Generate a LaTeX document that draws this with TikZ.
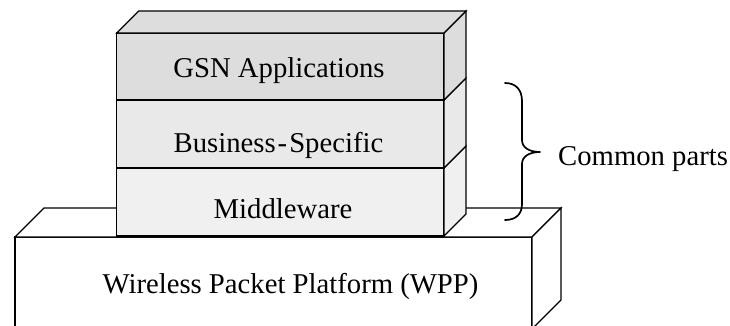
\documentclass[tikz,border=0pt]{standalone}
\usepackage{fontspec}
\setmainfont{Liberation Serif}
\definecolor{gsnfill}{HTML}{DDDDDD}
\definecolor{bizfill}{HTML}{E9E9E9}
\definecolor{midfill}{HTML}{F0F0F0}
\tikzset{
  face/.style={draw=black, line width=1.3pt, line join=miter},
  lbl/.style={inner sep=0pt, anchor=base, font=\fontsize{28.7}{34}\selectfont},
  bracepath/.style={draw=black, line width=1.7pt, line cap=round, line join=round}
}
\begin{document}
\begin{tikzpicture}[x=1pt, y=-1pt]
\useasboundingbox (0,0) rectangle (730,325);
\clip (0,0) rectangle (730,325);

% platform block (front, top, right side)
\filldraw[face, fill=white] (15,237) -- (532,237) -- (532,329) -- (15,329) -- cycle;
\filldraw[face, fill=white] (15,237) -- (44,208) -- (561,208) -- (532,237) -- cycle;
\filldraw[face, fill=white] (532,237) -- (561,208) -- (561,300) -- (532,329) -- cycle;

% stacked layers: front faces and right sides
\filldraw[face, fill=midfill] (116.7,168) rectangle (444,236);
\filldraw[face, fill=midfill] (444,168) -- (466,146) -- (466,214) -- (444,236) -- cycle;
\filldraw[face, fill=bizfill] (116.7,100) rectangle (444,168);
\filldraw[face, fill=bizfill] (444,100) -- (466,78) -- (466,146) -- (444,168) -- cycle;
\filldraw[face, fill=gsnfill] (116.7,33) rectangle (444,100);
\filldraw[face, fill=gsnfill] (444,33) -- (466,11) -- (466,78) -- (444,100) -- cycle;
% top face of the stack
\filldraw[face, fill=gsnfill] (116.7,33) -- (138.7,11) -- (466,11) -- (444,33) -- cycle;

% layer labels
\node[lbl] (gsn) at (279,77) {GSN Applications};
\node[lbl] (biz) at (278.5,152) {Business\kern2pt-\kern2pt Specific};
\node[lbl] (mid) at (283,218) {Middleware};
\node[lbl] (wpp) at (290.5,293) {Wireless Packet Platform (WPP)};
\node[lbl, anchor=base west] (common) at (558,165) {Common parts};

% curly brace grouping the common layers
\coordinate (btop) at (505,83);
\coordinate (btip) at (540,152);
\coordinate (bbot) at (505,220);
\draw[bracepath] (btop) .. controls (516,83) and (522,90) .. (522,101)
  -- (522,140) .. controls (522,148) and (530,152) .. (btip)
  .. controls (530,152) and (522,156) .. (522,164)
  -- (522,204) .. controls (522,214) and (516,220) .. (bbot);
\end{tikzpicture}
\end{document}
